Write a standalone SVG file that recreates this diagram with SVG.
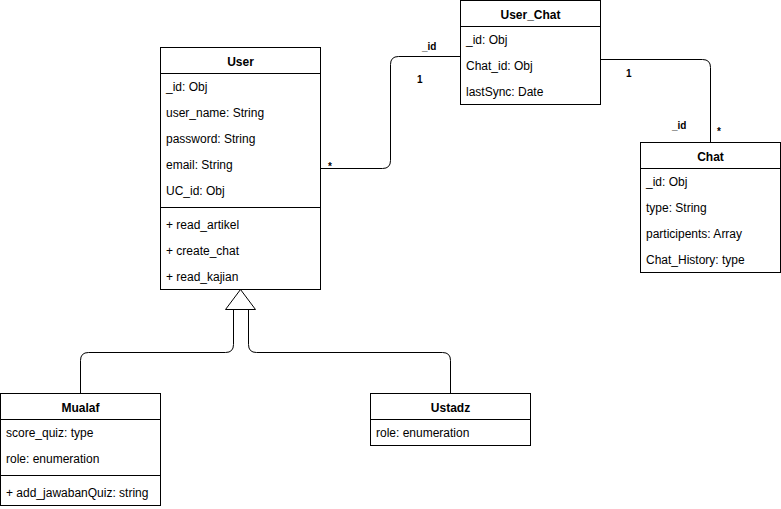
<svg xmlns="http://www.w3.org/2000/svg" width="781" height="509" viewBox="0 0 781 509">
<style>
.box{fill:#fff;stroke:#000;stroke-width:1}
.sep{stroke:#000;stroke-width:1;fill:none}
.t{font-family:"Liberation Sans",Arial,Helvetica,sans-serif;font-size:12px;fill:#000}
.h{font-family:"Liberation Sans",Arial,Helvetica,sans-serif;font-size:12px;font-weight:bold;fill:#000;text-anchor:middle}
.lbl{font-family:"Liberation Sans",Arial,Helvetica,sans-serif;font-size:10px;font-weight:bold;fill:#000}
.edge{fill:none;stroke:#000;stroke-width:1}
</style>
<rect width="781" height="509" fill="#fff"/>
<g id="connectors">
<path class="edge" d="M320.5 168.5 H382.5 Q390.5 168.5 390.5 160.5 V64.5 Q390.5 56.5 398.5 56.5 H460.5"/>
<path class="edge" d="M600.5 59.5 H702.5 Q710.5 59.5 710.5 67.5 V142.5"/>
<path class="edge" d="M80.5 393.5 V360.5 Q80.5 352.5 88.5 352.5 H225.5 Q233.5 352.5 233.5 344.5 V309.5"/>
<path class="edge" d="M450.5 393.5 V360.5 Q450.5 352.5 442.5 352.5 H256.5 Q248.5 352.5 248.5 344.5 V309.5"/>
<polygon class="box" points="240.5,289.5 225.5,309.5 255.5,309.5"/>
<text class="lbl" x="328" y="170">*</text>
<text class="lbl" x="422" y="50">_id</text>
<text class="lbl" x="417" y="83">1</text>
<text class="lbl" x="626" y="77">1</text>
<text class="lbl" x="672" y="129">_id</text>
<text class="lbl" x="717" y="135">*</text>
</g>
<g id="User">
<rect class="box" x="160.5" y="47.5" width="160" height="242"/>
<line class="sep" x1="160.5" y1="73.5" x2="320.5" y2="73.5"/>
<line class="sep" x1="160.5" y1="207.5" x2="320.5" y2="207.5"/>
<text class="h" x="240.5" y="65.5">User</text>
<text class="t" x="166" y="91">_id: Obj</text>
<text class="t" x="166" y="117">user_name: String</text>
<text class="t" x="166" y="143">password: String</text>
<text class="t" x="166" y="169">email: String</text>
<text class="t" x="166" y="195">UC_id: Obj</text>
<text class="t" x="166" y="229">+ read_artikel</text>
<text class="t" x="166" y="255">+ create_chat</text>
<text class="t" x="166" y="281">+ read_kajian</text>
</g>
<g id="User_Chat">
<rect class="box" x="460.5" y="0.5" width="140" height="104"/>
<line class="sep" x1="460.5" y1="26.5" x2="600.5" y2="26.5"/>
<text class="h" x="530.5" y="18.5">User_Chat</text>
<text class="t" x="466" y="44">_id: Obj</text>
<text class="t" x="466" y="70">Chat_id: Obj</text>
<text class="t" x="466" y="96">lastSync: Date</text>
</g>
<g id="Chat">
<rect class="box" x="640.5" y="142.5" width="140" height="130"/>
<line class="sep" x1="640.5" y1="168.5" x2="780.5" y2="168.5"/>
<text class="h" x="710.5" y="160.5">Chat</text>
<text class="t" x="646" y="186">_id: Obj</text>
<text class="t" x="646" y="212">type: String</text>
<text class="t" x="646" y="238">participents: Array</text>
<text class="t" x="646" y="264">Chat_History: type</text>
</g>
<g id="Mualaf">
<rect class="box" x="0.5" y="393.5" width="160" height="112"/>
<line class="sep" x1="0.5" y1="419.5" x2="160.5" y2="419.5"/>
<line class="sep" x1="0.5" y1="475.5" x2="160.5" y2="475.5"/>
<text class="h" x="80.5" y="411.5">Mualaf</text>
<text class="t" x="6" y="437">score_quiz: type</text>
<text class="t" x="6" y="463">role: enumeration</text>
<text class="t" x="6" y="497">+ add_jawabanQuiz: string</text>
</g>
<g id="Ustadz">
<rect class="box" x="370.5" y="393.5" width="160" height="52"/>
<line class="sep" x1="370.5" y1="419.5" x2="530.5" y2="419.5"/>
<text class="h" x="450.5" y="411.5">Ustadz</text>
<text class="t" x="376" y="437">role: enumeration</text>
</g>
</svg>
